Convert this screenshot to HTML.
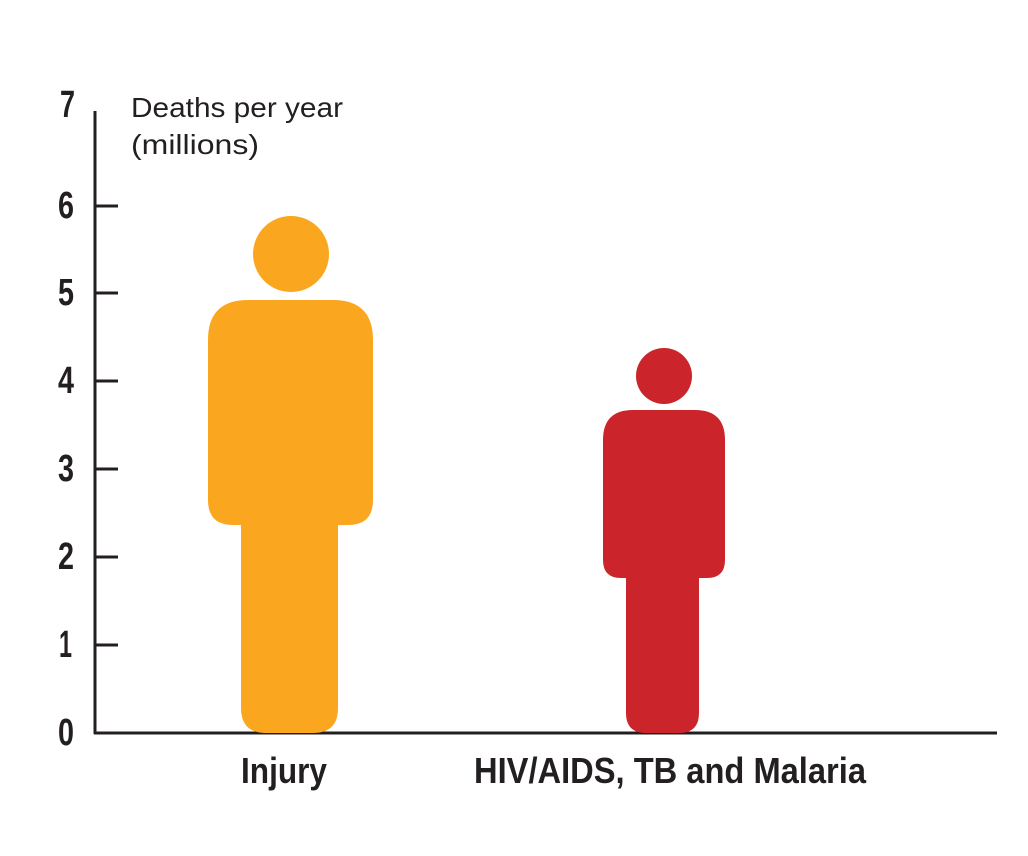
<!DOCTYPE html><html><head><style>body{margin:0;background:#fff}svg{display:block}</style></head><body>
<svg width="1028" height="856" xmlns="http://www.w3.org/2000/svg">
<g stroke="#231f20" stroke-width="3" fill="none">
<line x1="95" y1="111" x2="95" y2="734"/><line x1="94" y1="733" x2="997" y2="733"/>
<line x1="95" y1="206" x2="118" y2="206"/><line x1="95" y1="293" x2="118" y2="293"/><line x1="95" y1="381" x2="118" y2="381"/><line x1="95" y1="469" x2="118" y2="469"/><line x1="95" y1="557" x2="118" y2="557"/><line x1="95" y1="645" x2="118" y2="645"/>
</g>
<g font-family="Liberation Sans, sans-serif" font-weight="bold" font-size="38" fill="#231f20" lengthAdjust="spacingAndGlyphs">
<text x="60" y="117" textLength="15" lengthAdjust="spacingAndGlyphs">7</text>
<text x="58" y="218" textLength="16" lengthAdjust="spacingAndGlyphs">6</text>
<text x="58" y="305" textLength="16" lengthAdjust="spacingAndGlyphs">5</text>
<text x="58" y="393" textLength="16" lengthAdjust="spacingAndGlyphs">4</text>
<text x="58" y="481" textLength="16" lengthAdjust="spacingAndGlyphs">3</text>
<text x="58" y="569" textLength="16" lengthAdjust="spacingAndGlyphs">2</text>
<text x="59" y="657" textLength="13" lengthAdjust="spacingAndGlyphs">1</text>
<text x="58" y="745" textLength="16" lengthAdjust="spacingAndGlyphs">0</text>
<text x="241" y="783" textLength="86" lengthAdjust="spacingAndGlyphs" font-size="36">Injury</text>
<text x="474" y="783" textLength="392" lengthAdjust="spacingAndGlyphs" font-size="36">HIV/AIDS, TB and Malaria</text>
</g>
<g font-family="Liberation Sans, sans-serif" font-size="28" fill="#231f20">
<text x="131" y="117" textLength="212" lengthAdjust="spacingAndGlyphs">Deaths per year</text>
<text x="131" y="154" textLength="128" lengthAdjust="spacingAndGlyphs">(millions)</text>
</g>
<circle cx="291" cy="254" r="38" fill="#FBA61F"/>
<path fill="#FBA61F" d="M248 300 H333 Q373 300 373 340 V500 Q373 525 348 525 H338 V708 Q338 733 313 733 H266 Q241 733 241 708 V525 H233 Q208 525 208 500 V340 Q208 300 248 300Z"/>
<circle cx="664" cy="376" r="28" fill="#CC242B"/>
<path fill="#CC242B" d="M633 410 H695 Q725 410 725 440 V560 Q725 578 707 578 H699 V713 Q699 733 679 733 H646 Q626 733 626 713 V578 H621 Q603 578 603 560 V440 Q603 410 633 410Z"/>
</svg></body></html>
